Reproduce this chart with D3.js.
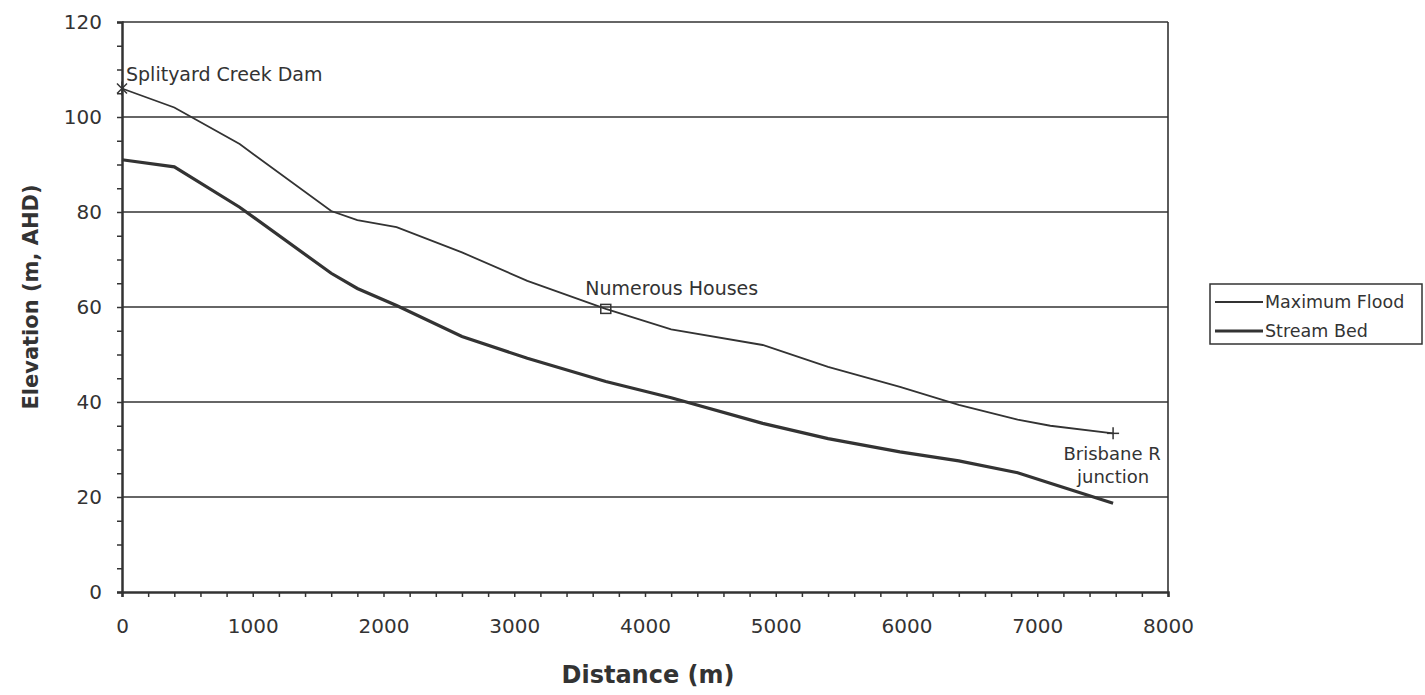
<!DOCTYPE html>
<html>
<head>
<meta charset="utf-8">
<script src="https://cdn.jsdelivr.net/npm/d3@7"></script>
<style>
  body { margin: 0; background: #fff; }
  text { font-family: "DejaVu Sans", Verdana, sans-serif; fill: #333; }
</style>
</head>
<body>
<svg id="chart" width="1425" height="695"></svg>
<script>
// Distance along the creek (m)
const distance = [0, 400, 900, 1600, 1800, 2100, 2600, 3100, 3700, 4200, 4900, 5400, 5950, 6400, 6850, 7100, 7580];
// Elevation of the maximum flood (m, AHD)
const maxFlood = [106, 102, 94.3, 80.2, 78.3, 76.8, 71.5, 65.5, 59.6, 55.3, 52, 47.4, 43.2, 39.4, 36.3, 35, 33.4];
// Elevation of the stream bed (m, AHD)
const streamBed = [91, 89.5, 81, 67.1, 63.9, 60.3, 53.8, 49.2, 44.3, 40.9, 35.5, 32.3, 29.5, 27.6, 25.1, 22.9, 18.7];

const yTicks = [0, 20, 40, 60, 80, 100, 120];
const xTicks = [0, 1000, 2000, 3000, 4000, 5000, 6000, 7000, 8000];
const seriesNames = ["Maximum Flood", "Stream Bed"];

// Labelled points on the flood line
const notes = [
  { label: ["Splityard Creek Dam"], d: 0, e: 106, marker: "x" },
  { label: ["Numerous Houses"], d: 3700, e: 59.6, marker: "square" },
  { label: ["Brisbane R", "junction"], d: 7580, e: 33.4, marker: "plus" }
];

const svg = d3.select("#chart");
const ink = "#333";
const margin = { top: 22, right: 257, bottom: 103, left: 122 };
const width = +svg.attr("width");
const height = +svg.attr("height");

const x = d3.scaleLinear().domain([0, 8000]).range([margin.left, width - margin.right]);
const y = d3.scaleLinear().domain([0, 120]).range([height - margin.bottom, margin.top]);

// Grid lines
svg.append("g")
  .selectAll("line")
  .data(yTicks.filter(t => t > 0))
  .join("line")
    .attr("x1", x(0)).attr("x2", x(8000))
    .attr("y1", d => y(d)).attr("y2", d => y(d))
    .attr("stroke", ink).attr("stroke-width", 1.6);

// Right border
svg.append("line")
  .attr("x1", x(8000)).attr("x2", x(8000))
  .attr("y1", y(0)).attr("y2", y(120))
  .attr("stroke", ink).attr("stroke-width", 1.6);

// Axes
const yAxis = svg.append("g")
  .attr("transform", `translate(${x(0)},0)`)
  .call(d3.axisLeft(y).tickValues(d3.range(0, 121, 5)).tickSize(5).tickFormat(d => yTicks.includes(d) ? d : ""));
yAxis.select(".domain").attr("stroke", ink).attr("stroke-width", 2.5);
yAxis.selectAll(".tick line").attr("stroke", ink).attr("stroke-width", 1.5);
yAxis.selectAll(".tick text").attr("font-size", 20).attr("dx", -12).attr("fill", ink);

const xAxis = svg.append("g")
  .attr("transform", `translate(0,${y(0)})`)
  .call(d3.axisBottom(x).tickValues(d3.range(0, 8001, 200)).tickSize(5).tickFormat(d => xTicks.includes(d) ? d : ""));
xAxis.select(".domain").attr("stroke", ink).attr("stroke-width", 2.5);
xAxis.selectAll(".tick text").attr("font-size", 20).attr("dy", 33).attr("fill", ink);
xAxis.selectAll(".tick line").attr("stroke", ink).attr("stroke-width", 1.5);

// Axis titles
svg.append("text")
  .attr("x", 648).attr("y", 683)
  .attr("text-anchor", "middle")
  .attr("font-size", 24).attr("font-weight", "bold")
  .text("Distance (m)");

svg.append("text")
  .attr("transform", "translate(38,297) rotate(-90)")
  .attr("text-anchor", "middle")
  .attr("font-size", 21).attr("font-weight", "bold")
  .text("Elevation (m, AHD)");

// Series lines
const line = d3.line().x((d, i) => x(distance[i])).y(d => y(d));
svg.append("path").datum(maxFlood)
  .attr("d", line).attr("fill", "none")
  .attr("stroke", ink).attr("stroke-width", 1.8);
svg.append("path").datum(streamBed)
  .attr("d", line).attr("fill", "none")
  .attr("stroke", ink).attr("stroke-width", 3.2);

// Markers
notes.forEach(n => {
  const cx = x(n.d), cy = y(n.e);
  const g = svg.append("g").attr("stroke", ink).attr("stroke-width", 1.5).attr("fill", "none");
  if (n.marker === "square") {
    g.append("rect").attr("x", cx - 5).attr("y", cy - 4.5).attr("width", 10).attr("height", 9);
  } else if (n.marker === "plus") {
    g.append("line").attr("x1", cx - 6).attr("x2", cx + 6).attr("y1", cy).attr("y2", cy);
    g.append("line").attr("x1", cx).attr("x2", cx).attr("y1", cy - 6).attr("y2", cy + 6);
  } else {
    g.append("line").attr("x1", cx - 5).attr("x2", cx + 5).attr("y1", cy - 5).attr("y2", cy + 5);
    g.append("line").attr("x1", cx - 5).attr("x2", cx + 5).attr("y1", cy + 5).attr("y2", cy - 5);
    g.append("line").attr("x1", cx).attr("x2", cx).attr("y1", cy - 7).attr("y2", cy + 7);
  }
});

// Annotation labels
svg.append("text").attr("x", x(0) + 4).attr("y", y(106) - 8)
  .attr("font-size", 19).text(notes[0].label[0]);
svg.append("text").attr("x", x(3700) + 66).attr("y", y(59.6) - 14)
  .attr("text-anchor", "middle").attr("font-size", 19).text(notes[1].label[0]);
svg.append("text").attr("x", x(7580) - 1).attr("y", y(33.4) + 27)
  .attr("text-anchor", "middle").attr("font-size", 18).text(notes[2].label[0]);
svg.append("text").attr("x", x(7580)).attr("y", y(33.4) + 50)
  .attr("text-anchor", "middle").attr("font-size", 18).text(notes[2].label[1]);

// Legend
const legend = svg.append("g").attr("transform", "translate(1210,284)");
legend.append("rect").attr("width", 212).attr("height", 60)
  .attr("fill", "#fff").attr("stroke", ink).attr("stroke-width", 1.5);
seriesNames.forEach((name, i) => {
  const ly = 18 + i * 29;
  legend.append("line").attr("x1", 5).attr("x2", 53).attr("y1", ly).attr("y2", ly)
    .attr("stroke", ink).attr("stroke-width", i === 0 ? 1.8 : 3.2);
  legend.append("text").attr("x", 55).attr("y", ly + 6)
    .attr("font-size", 17.5).text(name);
});
</script>
</body>
</html>
